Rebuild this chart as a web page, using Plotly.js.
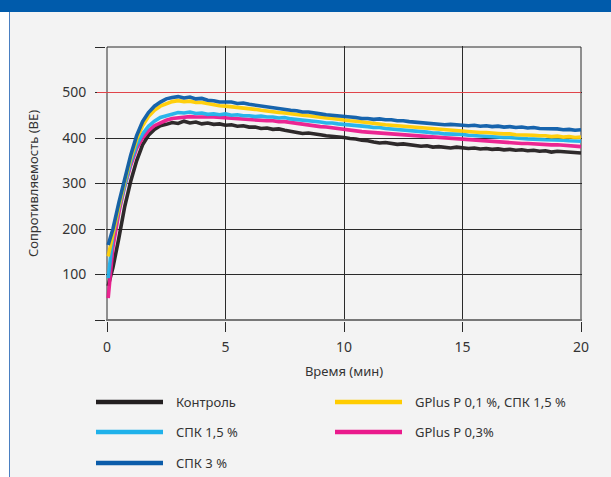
<!DOCTYPE html>
<html>
<head>
<meta charset="utf-8">
<script src="https://cdn.plot.ly/plotly-3.0.1.min.js"></script>
<style>
  html, body { margin: 0; padding: 0; background: #ffffff; }
  #wrap { position: relative; width: 611px; height: 477px; overflow: hidden; }
  #chart { position: absolute; left: 0; top: 0; width: 611px; height: 477px; }
  #leftwhite { position: absolute; left: 0; top: 0; width: 9px; height: 477px; background: #ffffff; }
  #leftline { position: absolute; left: 9px; top: 0; width: 1px; height: 477px; background: #4a7fc1; }
  #header { position: absolute; left: 0; top: 0; width: 611px; height: 12px; background: #005bab; }
</style>
</head>
<body>
<div id="wrap">
  <div id="chart"></div>
  <div id="leftwhite"></div>
  <div id="leftline"></div>
  <div id="header"></div>
</div>
<script>
// ---- DATA ----
const time = [0.05, 0.25, 0.5, 0.75, 1, 1.25, 1.5, 1.75, 2, 2.25, 2.5, 2.75, 3, 3.25, 3.5, 3.75,
  4, 4.25, 4.5, 4.75, 5, 5.25, 5.5, 5.75, 6, 6.25, 6.5, 6.75, 7, 7.25, 7.5, 7.75,
  8, 8.25, 8.5, 8.75, 9, 9.25, 9.5, 9.75, 10, 10.25, 10.5, 10.75, 11, 11.25, 11.5, 11.75,
  12, 12.25, 12.5, 12.75, 13, 13.25, 13.5, 13.75, 14, 14.25, 14.5, 14.75, 15, 15.25, 15.5, 15.75,
  16, 16.25, 16.5, 16.75, 17, 17.25, 17.5, 17.75, 18, 18.25, 18.5, 18.75, 19, 19.25, 19.5, 19.75, 20];

const kontrol = [75, 115, 180, 250, 305, 350, 385, 406, 419, 427, 430, 434, 432, 437, 433, 435,
  431, 433, 430, 431, 428, 429, 426, 427, 424, 424, 421, 422, 419, 420, 417, 414,
  413, 410, 411, 408, 407, 405, 404, 402, 401, 399, 398, 395, 394, 391, 389, 390,
  387, 386, 387, 385, 384, 382, 383, 380, 381, 379, 378, 380, 378, 377, 378, 376,
  377, 375, 376, 374, 375, 373, 374, 372, 373, 371, 372, 369, 371, 370, 368, 369, 367];

const gplus01 = [140, 192, 250, 305, 355, 397, 427, 447, 461, 470, 476, 480, 482, 480, 481, 478,
  478, 475, 474, 471, 470, 469, 467, 466, 464, 463, 461, 459, 458, 456, 455, 453,
  452, 450, 449, 447, 446, 444, 443, 441, 440, 438, 437, 435, 434, 432, 431, 429,
  428, 427, 426, 424, 423, 422, 421, 419, 419, 417, 417, 415, 415, 413, 413, 412,
  412, 410, 410, 409, 409, 407, 407, 406, 406, 405, 405, 403, 404, 402, 403, 401, 402];

const spk15 = [92, 186, 246, 300, 347, 384, 409, 426, 437, 445, 449, 454, 456, 455, 457, 454,
  455, 452, 453, 451, 453, 450, 451, 449, 449, 447, 448, 446, 446, 444, 445, 442,
  441, 439, 438, 436, 435, 433, 433, 431, 430, 429, 428, 426, 425, 423, 423, 421,
  420, 418, 418, 416, 415, 414, 413, 411, 411, 409, 409, 408, 408, 406, 405, 404,
  404, 402, 402, 401, 401, 399, 399, 398, 398, 397, 396, 396, 395, 395, 394, 393, 393];

const gplus03 = [48, 160, 236, 294, 340, 377, 400, 416, 427, 434, 439, 443, 445, 446, 447, 446,
  447, 446, 446, 445, 445, 443, 443, 441, 441, 440, 439, 438, 438, 436, 436, 434,
  432, 430, 429, 427, 425, 424, 422, 420, 419, 418, 416, 414, 413, 412, 410, 409,
  408, 407, 406, 405, 404, 403, 402, 401, 400, 399, 398, 397, 396, 395, 394, 394,
  393, 392, 391, 391, 390, 389, 388, 388, 387, 386, 386, 385, 385, 384, 383, 382, 381];

const spk3 = [165, 200, 258, 312, 362, 405, 436, 456, 470, 479, 486, 489, 491, 488, 490, 486,
  487, 483, 482, 479, 478, 479, 476, 477, 474, 472, 471, 468, 467, 464, 463, 461,
  460, 457, 457, 454, 453, 451, 450, 448, 447, 446, 445, 443, 443, 441, 442, 440,
  440, 438, 438, 436, 435, 434, 433, 431, 431, 429, 430, 428, 428, 427, 428, 426,
  427, 425, 426, 424, 425, 423, 424, 422, 423, 421, 421, 420, 420, 418, 419, 417, 418];

const seriesNames = ["Контроль", "GPlus P 0,1 %, СПК 1,5 %", "СПК 1,5 %", "GPlus P 0,3%", "СПК 3 %"];
const seriesValues = [kontrol, gplus01, spk15, gplus03, spk3];
const seriesColors = ["#231f20", "#ffcc00", "#1fb1ea", "#ea1a8c", "#0b5ca9"];
const drawOrder = [0, 3, 2, 1, 4];

const xTickVals = [0, 5, 10, 15, 20];
const xTickText = ["0", "5", "10", "15", "20"];
const yTickVals = [0, 100, 200, 300, 400, 500, 600];
const yTickText = ["", "100", "200", "300", "400", "500", ""];
const referenceLevel = 500;

const xTitle = "Время (мин)";
const yTitle = "Сопротивляемость (BE)";

// ---- LAYOUT ----
const W = 611, H = 477;
const M = { l: 106, r: 29, t: 46, b: 156 };
const pw = W - M.l - M.r, ph = H - M.t - M.b;
const px2x = px => (px - M.l) / pw;
const py2y = py => (H - M.b - py) / ph;

const FONT = "Noto Sans, Open Sans, sans-serif";
const GRID = "#2a2a2a";

const traces = drawOrder.map(i => ({
  type: "scatter",
  mode: "lines",
  x: time,
  y: seriesValues[i],
  name: seriesNames[i],
  line: { color: seriesColors[i], width: 3.6 },
  opacity: 0.95,
  showlegend: false,
  hoverinfo: "skip"
}));

const xMin = xTickVals[0], xMax = xTickVals[xTickVals.length - 1];
const yMax = yTickVals[yTickVals.length - 1];
const shapes = [
  // frame grid lines at the range edges (top, left, right)
  { type: "line", xref: "x", yref: "y", layer: "below", x0: xMin, x1: xMax, y0: yMax, y1: yMax,
    line: { color: GRID, width: 1 } },
  { type: "line", xref: "x", yref: "y", layer: "below", x0: xMin, x1: xMin, y0: 0, y1: yMax,
    line: { color: GRID, width: 1 } },
  { type: "line", xref: "x", yref: "y", layer: "below", x0: xMax, x1: xMax, y0: 0, y1: yMax,
    line: { color: GRID, width: 1 } },
  // reference level
  { type: "line", xref: "paper", yref: "y", layer: "above",
    x0: px2x(97), x1: px2x(581), y0: referenceLevel, y1: referenceLevel,
    line: { color: "#e0444a", width: 1.2 } }
];
const annotations = [];

// legend grid: rows x columns
const legendSlots = [
  { col: 0, row: 0 }, { col: 1, row: 0 }, { col: 0, row: 1 }, { col: 1, row: 1 }, { col: 0, row: 2 }
];
const colLineStart = [96, 335], lineLen = 67, textGap = 11;
const rowY = [402, 432, 463];
seriesNames.forEach((nm, i) => {
  const s = legendSlots[i];
  const x0 = colLineStart[s.col], y = rowY[s.row];
  shapes.push({
    type: "line", xref: "paper", yref: "paper",
    x0: px2x(x0), x1: px2x(x0 + lineLen), y0: py2y(y), y1: py2y(y),
    line: { color: seriesColors[i], width: 4.5 }
  });
  annotations.push({
    xref: "paper", yref: "paper", x: px2x(x0 + lineLen + textGap), y: py2y(y),
    xanchor: "left", yanchor: "middle", showarrow: false,
    text: nm, font: { family: FONT, size: 13, color: "#333333" }
  });
});

const layout = {
  width: W, height: H,
  margin: M,
  paper_bgcolor: "#f3f3f3",
  plot_bgcolor: "#f3f3f3",
  showlegend: false,
  font: { family: FONT, size: 14, color: "#333333" },
  xaxis: {
    range: [-0.042, 20.042],
    tickvals: xTickVals, ticktext: xTickText,
    showgrid: true, gridcolor: GRID, gridwidth: 1,
    zeroline: false, showline: false,
    ticks: "outside", ticklen: 10, tickcolor: GRID, tickwidth: 1,
    ticklabelstandoff: 3,
    tickfont: { family: FONT, size: 14, color: "#333333" },
    title: { text: xTitle, font: { family: FONT, size: 13, color: "#333333" }, standoff: 12 },
    fixedrange: true
  },
  yaxis: {
    range: [-2.2, 602.2],
    tickvals: yTickVals, ticktext: yTickText,
    showgrid: true, gridcolor: GRID, gridwidth: 1,
    zeroline: true, zerolinecolor: "#777777", zerolinewidth: 1.5,
    showline: false,
    ticks: "outside", ticklen: 10, tickcolor: GRID, tickwidth: 1,
    ticklabelstandoff: 6,
    tickfont: { family: FONT, size: 14, color: "#333333" },
    title: { text: yTitle, font: { family: FONT, size: 13, color: "#333333" }, standoff: 20 },
    fixedrange: true
  },
  shapes: shapes,
  annotations: annotations
};

Plotly.newPlot("chart", traces, layout, { displayModeBar: false, staticPlot: true });
</script>
</body>
</html>
